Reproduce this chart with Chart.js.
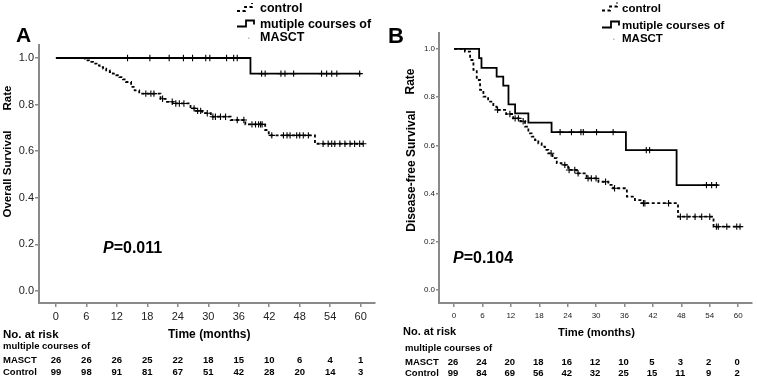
<!DOCTYPE html>
<html><head><meta charset="utf-8">
<script src="https://cdn.jsdelivr.net/npm/chart.js@4"></script>
<style>
html,body{margin:0;padding:0;background:#fff;width:757px;height:378px;overflow:hidden}
canvas{position:absolute;top:0}
#cA{left:0}
#cB{left:380px}
</style></head>
<body>
<canvas id="cA" width="380" height="378"></canvas>
<canvas id="cB" width="377" height="378"></canvas>
<script>
// ---------- data ----------
const monthTicks = [0, 6, 12, 18, 24, 30, 36, 42, 48, 54, 60];
const rateTicks = [0, 0.2, 0.4, 0.6, 0.8, 1.0];
const legendLabels = ['control', 'mutiple courses of', 'MASCT'];
const riskRowLabels = ['multiple courses of', 'MASCT', 'Control'];

// Panel A: overall survival
const osMasctTimes = [0, 38.3, 60];
const osMasctSurv = [1.0, 0.933, 0.933];
const osMasctCensor = [14.1, 18.5, 22.3, 25.1, 26.9, 29.5, 30.3, 33.6, 35.0, 35.7, 40.5, 41.2, 44.3, 45.1, 46.8, 52.3, 53.3, 54.3, 55.3, 59.8];
const osCtrlTimes = [0, 5.7, 6.5, 7.3, 8.0, 8.6, 9.3, 9.9, 10.6, 11.2, 11.9, 12.5, 13.2, 13.8, 14.8, 15.5, 16.4, 20.6, 21.6, 23.0, 26.5, 27.6, 28.8, 30.5, 34.4, 37.3, 41.2, 41.9, 51.0, 60.5];
const osCtrlSurv  = [1.0, 0.99, 0.983, 0.976, 0.968, 0.961, 0.954, 0.947, 0.940, 0.933, 0.926, 0.918, 0.908, 0.897, 0.876, 0.861, 0.847, 0.825, 0.812, 0.805, 0.784, 0.773, 0.763, 0.748, 0.734, 0.715, 0.691, 0.668, 0.632, 0.632];
const osCtrlCensor = [17.7, 18.7, 19.3, 21.0, 22.9, 23.6, 24.3, 25.2, 27.2, 27.9, 28.5, 29.8, 30.9, 31.4, 32.4, 33.4, 35.7, 37.0, 38.6, 39.3, 39.9, 40.3, 40.6, 42.5, 44.8, 45.5, 46.1, 47.4, 48.0, 48.7, 49.7, 52.6, 53.6, 54.3, 54.9, 55.9, 56.9, 57.9, 58.8, 59.8, 60.5];
const osRiskMasct = [26, 26, 26, 25, 22, 18, 15, 10, 6, 4, 1];
const osRiskCtrl  = [99, 98, 91, 81, 67, 51, 42, 28, 20, 14, 3];

// Panel B: disease-free survival
const dfsMasctTimes = [0, 5.3, 5.8, 9.0, 10.4, 11.5, 12.9, 15.7, 20.6, 36.3, 47.0, 55.8];
const dfsMasctSurv  = [1.0, 0.962, 0.921, 0.885, 0.848, 0.770, 0.733, 0.694, 0.655, 0.580, 0.435, 0.435];
const dfsMasctCensor = [22.4, 24.8, 26.8, 27.3, 30.1, 33.6, 40.6, 41.3, 53.3, 54.4, 55.4];
const dfsCtrlTimes = [0, 2.3, 3.4, 4.1, 4.8, 5.5, 6.2, 7.2, 8.3, 9.0, 11.0, 12.5, 14.0, 15.0, 15.7, 16.4, 17.1, 17.8, 18.5, 19.2, 19.9, 20.8, 21.7, 22.7, 24.1, 25.9, 28.0, 30.5, 32.6, 33.6, 36.5, 38.2, 39.6, 47.3, 54.8, 60.4];
const dfsCtrlSurv  = [1.0, 0.989, 0.954, 0.913, 0.871, 0.830, 0.802, 0.781, 0.761, 0.747, 0.730, 0.712, 0.700, 0.678, 0.650, 0.636, 0.622, 0.608, 0.595, 0.581, 0.567, 0.547, 0.526, 0.519, 0.498, 0.484, 0.463, 0.449, 0.436, 0.422, 0.387, 0.373, 0.360, 0.304, 0.263, 0.263];
const dfsCtrlCensor = [9.2, 11.8, 12.9, 13.6, 14.6, 20.5, 23.4, 24.3, 25.5, 26.2, 28.3, 29.0, 30.0, 32.0, 33.9, 40.0, 40.3, 45.3, 47.8, 49.2, 50.9, 52.3, 54.0, 55.4, 55.8, 57.6, 59.7, 60.4];
const dfsRiskMasct = [26, 24, 20, 18, 16, 12, 10, 5, 3, 2, 0];
const dfsRiskCtrl  = [99, 84, 69, 56, 42, 32, 25, 15, 11, 9, 2];

// ---------- helpers ----------
const FAM = '"Liberation Sans", Arial, Helvetica, sans-serif';
function survAt(times, surv, t) {
  let v = surv[0];
  for (let i = 0; i < times.length; i++) if (times[i] <= t) v = surv[i];
  return v;
}
function stepData(times, surv) { return times.map((t, i) => ({ x: t, y: surv[i] })); }
function censorData(times, surv, cens) { return cens.map(t => ({ x: t, y: survAt(times, surv, t) })); }

function drawExtras(c, L) {
  const ctx = c.ctx;
  ctx.save();
  ctx.fillStyle = '#000';
  ctx.strokeStyle = '#000';
  ctx.textBaseline = 'alphabetic';
  ctx.textAlign = 'left';
  // panel letter
  ctx.font = 'bold ' + L.letterSize + 'px ' + FAM;
  ctx.fillText(L.letter, L.letterX, L.letterY);
  // legend symbols
  const sx = L.legX;
  ctx.lineWidth = 1.8;
  ctx.setLineDash([3, 2.5]);
  ctx.beginPath();
  ctx.moveTo(sx, L.legY[0] - 1); ctx.lineTo(sx + 8, L.legY[0] - 1);
  ctx.lineTo(sx + 8, L.legY[0] - 5); ctx.lineTo(sx + 15, L.legY[0] - 5); ctx.lineTo(sx + 15, L.legY[0] - 9);
  ctx.stroke();
  ctx.setLineDash([]);
  ctx.beginPath();
  ctx.moveTo(sx, L.legY[1] - 1); ctx.lineTo(sx + 9, L.legY[1] - 1);
  ctx.lineTo(sx + 9, L.legY[1] - 7); ctx.lineTo(sx + 17, L.legY[1] - 7); ctx.lineTo(sx + 17, L.legY[1] - 3);
  ctx.stroke();
  ctx.fillStyle = '#bbb';
  ctx.fillRect(sx + 11, L.legY[2] - 3, 1.5, 1.5);
  ctx.fillStyle = '#000';
  ctx.font = 'bold ' + L.legSize + 'px ' + FAM;
  legendLabels.forEach((t, i) => ctx.fillText(t, L.legTextX, L.legY[i]));
  // y titles (rotated)
  ctx.font = 'bold ' + L.yTitleSize + 'px ' + FAM;
  ctx.textAlign = 'center';
  ctx.textBaseline = 'middle';
  L.yTitles.forEach(([t, x, y]) => {
    ctx.save(); ctx.translate(x, y); ctx.rotate(-Math.PI / 2); ctx.fillText(t, 0, 0); ctx.restore();
  });
  // p value
  ctx.textAlign = 'left';
  ctx.textBaseline = 'alphabetic';
  ctx.font = 'italic bold 16px ' + FAM;
  ctx.fillText('P', L.pX, L.pY);
  const pw = ctx.measureText('P').width;
  ctx.font = 'bold 16px ' + FAM;
  ctx.fillText(L.pText, L.pX + pw, L.pY);
  // risk table
  ctx.font = 'bold ' + L.riskHeadSize + 'px ' + FAM;
  ctx.fillText('No. at risk', L.riskHeadX, L.riskHeadY);
  ctx.font = 'bold ' + L.timeSize + 'px ' + FAM;
  ctx.fillText('Time (months)', L.timeX, L.timeY);
  ctx.font = 'bold ' + L.rowSize + 'px ' + FAM;
  riskRowLabels.forEach((t, i) => ctx.fillText(t, L.rowX, L.rowY[i]));
  ctx.textAlign = 'center';
  const xs = c.scales.x;
  monthTicks.forEach((m, i) => {
    const px = xs.getPixelForValue(m) + L.numShift;
    ctx.fillText(String(L.riskMasct[i]), px, L.rowY[1]);
    ctx.fillText(String(L.riskCtrl[i]), px, L.rowY[2]);
  });
  ctx.restore();
}

function makeChart(id, D, S, L) {
  const axisColor = '#8a8a8a';
  return new Chart(document.getElementById(id), {
    type: 'scatter',
    data: {
      datasets: [
        { data: stepData(D.ct, D.cs), showLine: true, stepped: true, borderColor: '#000', borderWidth: 1.8, borderDash: [3, 2.5], pointRadius: 0, fill: false },
        { data: stepData(D.mt, D.ms), showLine: true, stepped: true, borderColor: '#000', borderWidth: 1.8, pointRadius: 0, fill: false },
        { data: censorData(D.ct, D.cs, D.cc), showLine: false, pointStyle: 'cross', pointRadius: 3.2, borderColor: '#000', borderWidth: 1.1, backgroundColor: '#000' },
        { data: censorData(D.mt, D.ms, D.mc), showLine: false, pointStyle: 'cross', pointRadius: 3.2, borderColor: '#000', borderWidth: 1.1, backgroundColor: '#000' }
      ]
    },
    options: {
      responsive: false,
      animation: false,
      devicePixelRatio: 1,
      layout: { padding: S.pad },
      plugins: { legend: { display: false }, tooltip: { enabled: false }, title: { display: false } },
      scales: {
        x: {
          type: 'linear', min: S.xMin, max: S.xMax,
          afterBuildTicks: s => { s.ticks = monthTicks.map(v => ({ value: v })); },
          afterFit: s => { s.height = 20; },
          grid: { drawOnChartArea: false, drawTicks: true, tickLength: 4, color: axisColor, lineWidth: 1.5 },
          border: { display: true, color: axisColor, width: 2 },
          ticks: { padding: S.xPad, color: '#222', font: { size: S.tickSize, family: S.tickFam }, maxRotation: 0, autoSkip: false, callback: v => String(v) }
        },
        y: {
          type: 'linear', min: S.yMin, max: S.yMax,
          afterBuildTicks: s => { s.ticks = rateTicks.map(v => ({ value: v })); },
          afterFit: s => { s.width = S.yWidth; },
          grid: { drawOnChartArea: false, drawTicks: true, tickLength: S.yTickLen, color: axisColor, lineWidth: 1.5 },
          border: { display: true, color: axisColor, width: 2 },
          ticks: { padding: S.yPad, color: '#222', font: { size: S.tickSize, family: S.tickFam }, autoSkip: false, callback: v => Number(v).toFixed(1) }
        }
      }
    },
    plugins: [{ id: 'extras_' + id, afterDraw: c => drawExtras(c, L) }]
  });
}

Chart.defaults.font.family = FAM;

makeChart('cA',
  { ct: osCtrlTimes, cs: osCtrlSurv, cc: osCtrlCensor, mt: osMasctTimes, ms: osMasctSurv, mc: osMasctCensor },
  { pad: { top: 45, right: 3, bottom: 55, left: 0 }, xMin: -3.33, xMax: 62.8, yMin: -0.0515, yMax: 1.0558,
    yWidth: 39, yTickLen: 4, yPad: 1, xPad: 3, tickSize: 11, tickFam: FAM },
  { letter: 'A', letterSize: 21, letterX: 16, letterY: 42,
    legX: 237, legTextX: 260, legY: [12, 27.5, 40.5], legSize: 12.5,
    yTitleSize: 11.5, yTitles: [['Overall Survival', 8, 174], ['Rate', 8, 98]],
    pX: 103, pY: 253, pText: '=0.011',
    riskHeadSize: 11.5, riskHeadX: 3, riskHeadY: 337.5, timeSize: 12, timeX: 168, timeY: 337.5,
    rowSize: 9.5, rowX: 3, rowY: [349, 363, 375], numShift: 0,
    riskMasct: osRiskMasct, riskCtrl: osRiskCtrl });

makeChart('cB',
  { ct: dfsCtrlTimes, cs: dfsCtrlSurv, cc: dfsCtrlCensor, mt: dfsMasctTimes, ms: dfsMasctSurv, mc: dfsMasctCensor },
  { pad: { top: 33, right: 5, bottom: 55, left: 0 }, xMin: -3.17, xMax: 62.9, yMin: -0.054, yMax: 1.066,
    yWidth: 59, yTickLen: 3, yPad: 1, xPad: 4, tickSize: 8, tickFam: '"Liberation Sans Narrow", ' + FAM },
  { letter: 'B', letterSize: 22, letterX: 8, letterY: 43,
    legX: 222, legTextX: 242, legY: [11.5, 28.5, 41.5], legSize: 11.5,
    yTitleSize: 12, yTitles: [['Disease-free Survival', 32, 171], ['Rate', 31, 81.5]],
    pX: 73, pY: 263, pText: '=0.104',
    riskHeadSize: 11, riskHeadX: 23, riskHeadY: 335, timeSize: 11.2, timeX: 178, timeY: 336,
    rowSize: 9.5, rowX: 25, rowY: [350.5, 365, 376], numShift: -1,
    riskMasct: dfsRiskMasct, riskCtrl: dfsRiskCtrl });
</script>
</body></html>
